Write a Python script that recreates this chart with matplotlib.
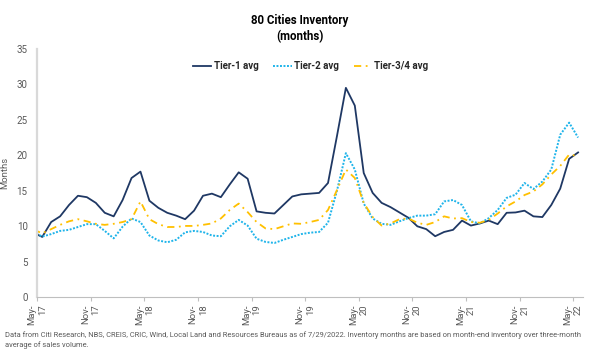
import numpy as np
import pandas as pd
import matplotlib
matplotlib.use("Agg")
import matplotlib.pyplot as plt

plt.rcParams['font.family'] = ['Roboto', 'DejaVu Sans']

# monthly data, Apr-17 .. May-22 (Apr-17 sits just left of the axis)
months = pd.period_range("2017-04", "2022-05", freq="M")

tier1 = [9.1,
         8.5, 10.6, 11.4, 13.0, 14.3, 14.1, 13.3, 11.9, 11.4, 13.7, 16.8, 17.7,
         13.6, 12.6, 11.9, 11.5, 11.0, 12.2, 14.3, 14.6, 14.1, 15.9, 17.6, 16.7,
         12.1, 11.9, 11.8, 13.0, 14.2, 14.5, 14.6, 14.7, 16.1, 22.7, 29.5, 27.0,
         17.5, 14.7, 13.3, 12.7, 11.95, 11.2, 10.0, 9.6, 8.6, 9.2, 9.5, 10.8,
         10.1, 10.4, 10.8, 10.3, 11.9, 11.95, 12.2, 11.4, 11.3, 13.0, 15.3, 19.5,
         20.4]
tier2 = [9.2,
         8.55, 8.9, 9.35, 9.5, 9.9, 10.3, 10.3, 9.35, 8.3, 9.95, 11.1, 10.6,
         8.7, 8.0, 7.75, 8.1, 9.15, 9.35, 9.2, 8.7, 8.6, 10.0, 10.9, 10.1,
         8.25, 7.8, 7.65, 8.1, 8.5, 8.9, 9.1, 9.2, 10.5, 15.0, 20.3, 18.0,
         13.2, 11.1, 10.35, 10.2, 10.7, 11.15, 11.5, 11.5, 11.7, 13.5, 13.7, 13.0,
         10.7, 10.4, 11.15, 12.3, 14.0, 14.45, 16.1, 15.25, 16.3, 18.0, 22.9, 24.6,
         22.5]
tier34 = [9.55,
          9.0, 9.6, 10.2, 10.7, 11.0, 10.7, 10.35, 10.2, 10.35, 10.6, 11.0, 13.5,
          11.0, 10.3, 9.9, 9.9, 10.05, 10.05, 10.2, 10.4, 11.1, 12.3, 13.2, 12.0,
          10.6, 9.7, 9.6, 10.0, 10.4, 10.35, 10.6, 10.9, 12.3, 15.1, 18.0, 16.8,
          13.3, 11.3, 10.1, 10.4, 11.0, 11.1, 10.5, 10.2, 10.6, 11.4, 11.1, 11.15,
          10.6, 10.5, 10.9, 11.8, 12.8, 13.5, 14.4, 14.9, 15.9, 17.3, 18.5, 20.1,
          19.9]

series_names = ["Tier-1 avg", "Tier-2 avg", "Tier-3/4 avg"]

footnote = ("Data from Citi Research, NBS, CREIS, CRIC, Wind, Local Land and Resources Bureaus "
            "as of 7/29/2022. Inventory months are based on month-end inventory over three-month\n"
            "average of sales volume.")

# x positions: May-17 tick = 0, points sit a bit past the tick
x = np.arange(len(months)) - 1 + 0.55
tick_idx = np.arange(1, len(months), 6)
tick_pos = tick_idx - 1
tick_labels = [f"{months[i].strftime('%b')}-\n{months[i].strftime('%y')}" for i in tick_idx]

fig = plt.figure(figsize=(6.0, 3.58), dpi=100)
ax = fig.add_axes([0.0622, 0.1696, 0.909, 0.6941])

ax.plot(x, tier1, color="#1f3864", lw=1.3, label=series_names[0])
ax.plot(x, tier2, color="#1fb4ea", lw=1.4, linestyle=(0, (1, 0.8)), label=series_names[1])
ax.plot(x, tier34, color="#ffc000", lw=1.3, linestyle=(0, (4, 2.5, 1, 2.5)), label=series_names[2])

ax.set_xlim(0, 61.07)
ax.set_ylim(0, 35)
ax.set_yticks(np.arange(0, 36, 5))
ax.set_xticks(tick_pos)
ax.set_xticklabels(tick_labels, rotation=90, ha="center", va="top",
                   multialignment="right", fontsize=6.8, color="#595959")
ax.tick_params(axis="y", length=0, labelsize=7, labelcolor="#595959", pad=7)
ax.tick_params(axis="x", length=3, color="#bfbfbf", pad=2)

for s in ["top", "right"]:
    ax.spines[s].set_visible(False)
ax.spines["left"].set_color("#d9d9d9")
ax.spines["left"].set_linewidth(1.6)
ax.spines["bottom"].set_color("#bfbfbf")
ax.spines["bottom"].set_linewidth(0.8)

ax.set_ylabel("Months", fontsize=6.8, color="#595959", labelpad=5)

fig.text(0.5, 0.962, "80 Cities Inventory\n(months)", ha="center", va="top",
         fontsize=8.3, fontweight="bold", color="black", linespacing=1.3)

leg = fig.legend(loc="center", bbox_to_anchor=(0.518, 0.815), ncol=3, frameon=False,
                 fontsize=7, handlelength=1.9, columnspacing=1.5, handletextpad=0.25)
for t in leg.get_texts():
    t.set_fontweight("bold")
    t.set_color("#262626")

fig.text(0.008, 0.025, footnote, ha="left", va="bottom", fontsize=5.4,
         color="#595959", linespacing=1.45)

fig.savefig("out.png", dpi=100)
